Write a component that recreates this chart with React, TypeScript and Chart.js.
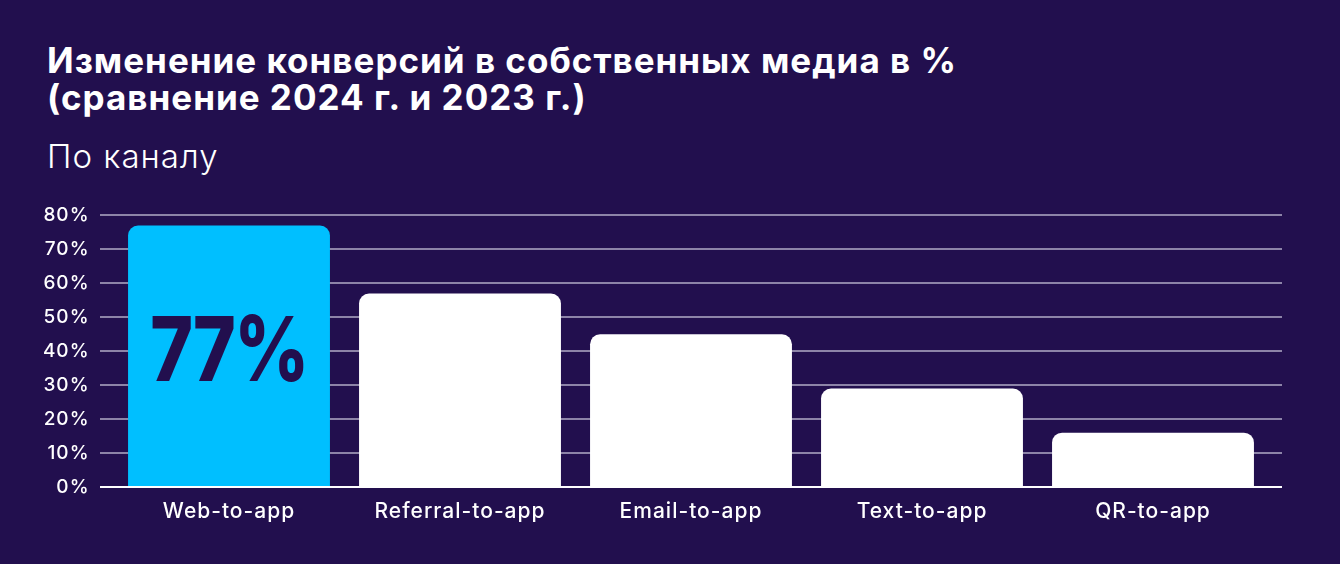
import React, { useEffect, useRef } from "react";
import { Chart, registerables, Plugin } from "chart.js";

Chart.register(...registerables);

const channels = ["Web-to-app", "Referral-to-app", "Email-to-app", "Text-to-app", "QR-to-app"];
const conversionChange = [77, 57, 45, 29, 16];
const yTicks = [0, 10, 20, 30, 40, 50, 60, 70, 80];
const highlightIndex = 0;

const BG = "#220f4e";
const CYAN = "#00bfff";
const GRID = "#8d84a8";
const FONT = "Inter, 'Noto Sans', sans-serif";

// grid lines run a bit wider than the bars' category area
const gridPlugin: Plugin<"bar"> = {
  id: "wideGrid",
  beforeDraw(chart) {
    (chart.ctx as any).letterSpacing = "1px";
  },
  beforeDatasetsDraw(chart) {
    const { ctx } = chart;
    const y = chart.scales.y;
    ctx.save();
    ctx.lineWidth = 2;
    ctx.strokeStyle = GRID;
    yTicks.slice(1).forEach((t) => {
      const py = Math.round(y.getPixelForValue(t));
      ctx.beginPath();
      ctx.moveTo(100, py);
      ctx.lineTo(1282, py);
      ctx.stroke();
    });
    ctx.restore();
  },
  afterDatasetsDraw(chart) {
    const { ctx } = chart;
    const y = chart.scales.y;
    const py = Math.round(y.getPixelForValue(0));
    ctx.save();
    ctx.lineWidth = 2;
    ctx.strokeStyle = "#ffffff";
    ctx.beginPath();
    ctx.moveTo(100, py);
    ctx.lineTo(1282, py);
    ctx.stroke();

    // big value label inside highlighted bar
    const bar = chart.getDatasetMeta(0).data[highlightIndex] as any;
    if (bar) {
      (ctx as any).letterSpacing = "-2px";
      ctx.fillStyle = BG;
      ctx.font = `800 90px ${FONT}`;
      ctx.textAlign = "center";
      ctx.textBaseline = "middle";
      ctx.translate(bar.x, (bar.y + bar.base) / 2 - 2);
      ctx.scale(0.81, 1);
      ctx.fillText(`${conversionChange[highlightIndex]}%`, 0, 0);
    }
    ctx.restore();
  },
};

function ConversionChart() {
  const canvasRef = useRef<HTMLCanvasElement | null>(null);

  useEffect(() => {
    if (!canvasRef.current) return;
    const chart = new Chart(canvasRef.current, {
      type: "bar",
      data: {
        labels: channels,
        datasets: [
          {
            data: conversionChange,
            backgroundColor: channels.map((_, i) => (i === highlightIndex ? CYAN : "#ffffff")),
            borderRadius: 10,
            borderSkipped: "start",
            barPercentage: 0.874,
            categoryPercentage: 1,
          },
        ],
      },
      options: {
        animation: false,
        responsive: true,
        maintainAspectRatio: false,
        layout: { padding: { top: 15, right: 71.5, bottom: 0, left: 0 } },
        plugins: {
          legend: { display: false },
          tooltip: { enabled: false },
        },
        scales: {
          x: {
            grid: { display: false, drawTicks: false },
            border: { display: false },
            ticks: {
              color: "#ffffff",
              font: { family: FONT, size: 21, weight: 500 },
              padding: 12,
            },
            afterFit: (scale) => {
              scale.height = 43;
            },
          },
          y: {
            min: 0,
            max: 80,
            grid: { display: false, drawTicks: false },
            border: { display: false },
            ticks: {
              stepSize: 10,
              color: "#ffffff",
              font: { family: FONT, size: 19, weight: 500 },
              padding: 24,
              callback: (v) => `${v}%`,
            },
            afterFit: (scale) => {
              scale.width = 113.5;
            },
          },
        },
      },
      plugins: [gridPlugin],
    });
    return () => chart.destroy();
  }, []);

  return (
    <div style={{ position: "absolute", left: 0, top: 180, width: 1340, height: 350 }}>
      <canvas ref={canvasRef} />
    </div>
  );
}

export default function App() {
  return (
    <div
      style={{
        position: "fixed",
        left: 0,
        top: 0,
        width: 1340,
        height: 564,
        background: BG,
        fontFamily: FONT,
        color: "#ffffff",
        overflow: "hidden",
      }}
    >
      <div
        style={{
          position: "absolute",
          left: 47,
          top: 42,
          fontSize: 35,
          fontWeight: 700,
          lineHeight: "37px",
          letterSpacing: "1px",
          whiteSpace: "nowrap",
        }}
      >
        Изменение конверсий в собственных медиа в %
        <br />
        (сравнение 2024 г. и 2023 г.)
      </div>
      <div
        style={{
          position: "absolute",
          left: 47,
          top: 136,
          fontSize: 33,
          fontWeight: 300,
          lineHeight: "40px",
          letterSpacing: "1px",
        }}
      >
        По каналу
      </div>
      <ConversionChart />
    </div>
  );
}
